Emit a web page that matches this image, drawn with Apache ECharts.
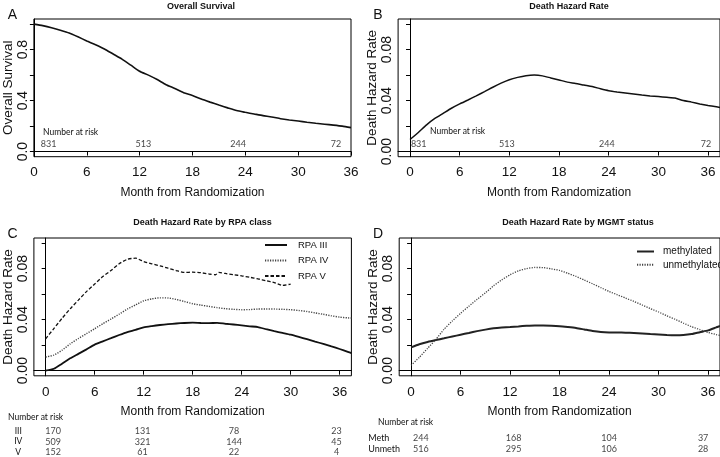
<!DOCTYPE html>
<html>
<head>
<meta charset="utf-8">
<script src="https://cdn.jsdelivr.net/npm/echarts@6/dist/echarts.min.js"></script>
<style>
  html, body { margin: 0; padding: 0; background: #fff; }
  #chart { width: 720px; height: 457px; }
</style>
</head>
<body>
<div id="chart"></div>
<script>
// A: overall survival
const survMonths = [0, 1, 2, 3, 4, 5, 6, 7, 8, 9, 10, 11, 12, 13, 14, 15, 16, 17, 18, 19, 20, 21, 22, 23, 24, 25, 26, 27, 28, 29, 30, 31, 32, 33, 34, 35, 36]
const survival = [1.000, 0.988, 0.972, 0.952, 0.930, 0.900, 0.868, 0.838, 0.805, 0.765, 0.725, 0.678, 0.630, 0.600, 0.565, 0.525, 0.495, 0.462, 0.440, 0.412, 0.388, 0.365, 0.343, 0.322, 0.308, 0.295, 0.282, 0.272, 0.258, 0.248, 0.240, 0.230, 0.222, 0.215, 0.208, 0.200, 0.188]

// B: death hazard rate (all patients)
const hazardMonths = [0, 1, 2, 3, 4, 5, 6, 7, 8, 9, 10, 11, 12, 13, 14, 15, 16, 17, 18, 19, 20, 21, 22, 23, 24, 25, 26, 27, 28, 29, 30, 31, 32, 33, 34, 35, 36, 37, 37.44]
const hazard = [0.0095, 0.0150, 0.0210, 0.0260, 0.0300, 0.0340, 0.0374, 0.0405, 0.0437, 0.0470, 0.0505, 0.0537, 0.0564, 0.0582, 0.0595, 0.0600, 0.0594, 0.0578, 0.0562, 0.0545, 0.0535, 0.0522, 0.0510, 0.0493, 0.0478, 0.0468, 0.0460, 0.0452, 0.0444, 0.0437, 0.0432, 0.0426, 0.0420, 0.0400, 0.0388, 0.0374, 0.0362, 0.0352, 0.0345]

// C: hazard by RPA class
const rpaMonths = [0, 1, 2, 3, 4, 5, 6, 7, 8, 9, 10, 11, 12, 13, 14, 15, 16, 17, 18, 19, 20, 21, 22, 23, 24, 25, 26, 27, 28, 29, 30, 31, 32, 33, 34, 35, 36, 37, 37.44]
const rpa3 = [0.0000, 0.0015, 0.0055, 0.0097, 0.0132, 0.0167, 0.0204, 0.0230, 0.0255, 0.0280, 0.0303, 0.0320, 0.0340, 0.0350, 0.0358, 0.0365, 0.0370, 0.0374, 0.0376, 0.0374, 0.0373, 0.0375, 0.0368, 0.0362, 0.0355, 0.0348, 0.0342, 0.0325, 0.0310, 0.0296, 0.0282, 0.0265, 0.0247, 0.0228, 0.0210, 0.0190, 0.0170, 0.0148, 0.0138]
const rpa4 = [0.0107, 0.0122, 0.0160, 0.0210, 0.0252, 0.0290, 0.0329, 0.0368, 0.0405, 0.0443, 0.0483, 0.0515, 0.0548, 0.0563, 0.0571, 0.0570, 0.0558, 0.0542, 0.0525, 0.0514, 0.0504, 0.0494, 0.0486, 0.0481, 0.0478, 0.0479, 0.0483, 0.0483, 0.0483, 0.0481, 0.0478, 0.0472, 0.0464, 0.0453, 0.0442, 0.0430, 0.0420, 0.0414, 0.0413]
const rpa5Months = [0, 1, 2, 3, 4, 5, 6, 7, 8, 9, 10, 11, 12, 13, 14, 15, 16, 17, 18, 19, 20, 20.8, 21.2, 22, 23, 24, 25, 26, 27, 28, 29, 30]
const rpa5 = [0.0250, 0.0330, 0.0410, 0.0485, 0.0553, 0.0620, 0.0679, 0.0738, 0.0785, 0.0838, 0.0873, 0.0882, 0.0856, 0.0838, 0.0822, 0.0803, 0.0785, 0.0770, 0.0772, 0.0768, 0.0758, 0.0752, 0.0770, 0.0762, 0.0752, 0.0744, 0.0732, 0.0720, 0.0705, 0.0690, 0.0668, 0.0679]

// D: hazard by MGMT status
const mgmtMonths = [0, 1, 2, 3, 4, 5, 6, 7, 8, 9, 10, 11, 12, 13, 14, 15, 16, 17, 18, 19, 20, 21, 22, 23, 24, 25, 26, 27, 28, 29, 30, 31, 32, 33, 34, 35, 36, 37, 37.44]
const methylated = [0.0183, 0.0207, 0.0225, 0.0240, 0.0254, 0.0268, 0.0282, 0.0296, 0.0310, 0.0322, 0.0332, 0.0338, 0.0342, 0.0347, 0.0352, 0.0355, 0.0355, 0.0353, 0.0349, 0.0342, 0.0334, 0.0323, 0.0312, 0.0304, 0.0300, 0.0299, 0.0298, 0.0296, 0.0292, 0.0287, 0.0283, 0.0279, 0.0277, 0.0279, 0.0287, 0.0302, 0.0316, 0.0340, 0.0350]
const unmethylated = [0.0042, 0.0105, 0.0175, 0.0245, 0.0325, 0.0390, 0.0450, 0.0505, 0.0559, 0.0610, 0.0665, 0.0712, 0.0752, 0.0782, 0.0800, 0.0809, 0.0808, 0.0798, 0.0786, 0.0763, 0.0739, 0.0710, 0.0681, 0.0651, 0.0621, 0.0595, 0.0569, 0.0543, 0.0515, 0.0487, 0.0460, 0.0430, 0.0403, 0.0373, 0.0345, 0.0322, 0.0300, 0.0283, 0.0277]

// number at risk
const riskMonths = [0, 12, 24, 36]
const riskAll = [831, 513, 244, 72]
const rpaRows = ['III', 'IV', 'V']
const riskRpa = [[170, 131, 78, 23], [509, 321, 144, 45], [152, 61, 22, 4]]
const mgmtRows = ['Meth', 'Unmeth']
const riskMgmt = [[244, 168, 104, 37], [516, 295, 106, 28]]

// ticks
const monthTicks = [0, 6, 12, 18, 24, 30, 36]
const survTicks = [0, 0.2, 0.4, 0.6, 0.8, 1.0]
const survLabels = [0, 0.4, 0.8]
const hazTicks = [0, 0.02, 0.04, 0.06, 0.08, 0.1]
const hazLabels = [0, 0.04, 0.08]

const SANS = "'Liberation Sans', Arial, sans-serif"
const RISK_FONT = "Lato, 'Open Sans', sans-serif"

const pairs = (xs, ys) => xs.map((x, i) => [x, ys[i]])

function xAxisFor (gridIndex, min, max) {
  return {
    gridIndex,
    type: 'value',
    min,
    max,
    axisLine: { lineStyle: { color: '#000', width: 1 } },
    axisTick: { customValues: monthTicks, length: 4, lineStyle: { color: '#000' } },
    axisLabel: { customValues: monthTicks, fontFamily: SANS, fontSize: 13.5, color: '#111', margin: 9 },
    splitLine: { show: false },
    name: 'Month from Randomization',
    nameLocation: 'middle',
    nameGap: 30,
    nameTextStyle: { fontFamily: SANS, fontSize: 12, color: '#111' }
  }
}

function yAxisFor (gridIndex, min, max, ticks, labels, digits, name, gap) {
  return {
    gridIndex,
    type: 'value',
    min,
    max,
    axisLine: { lineStyle: { color: '#000', width: 1 } },
    axisTick: { customValues: ticks, length: 4, lineStyle: { color: '#000' } },
    axisLabel: {
      customValues: labels,
      rotate: 90,
      formatter: v => v.toFixed(digits),
      fontFamily: SANS,
      fontSize: 14,
      color: '#111',
      margin: 4
    },
    splitLine: { show: false },
    name,
    nameLocation: 'middle',
    nameGap: gap,
    nameTextStyle: { fontFamily: SANS, fontSize: 13.5, color: '#111' }
  }
}

function lineSeries (name, idx, data, color, width, type) {
  return {
    name,
    type: 'line',
    xAxisIndex: idx,
    yAxisIndex: idx,
    data,
    symbol: 'none',
    smooth: 0.2,
    silent: true,
    color,
    itemStyle: { color, opacity: 0 },
    lineStyle: { color, width, type }
  }
}

function riskSeries (idx, points, counts, offsets) {
  return {
    type: 'scatter',
    xAxisIndex: idx,
    yAxisIndex: idx,
    symbolSize: 1,
    silent: true,
    itemStyle: { color: 'rgba(0,0,0,0)' },
    data: points.map((p, i) => ({ value: p, label: { offset: [offsets[i % offsets.length], 0] } })),
    label: {
      show: true,
      position: 'inside',
      formatter: p => counts[p.dataIndex],
      fontFamily: RISK_FONT,
      fontSize: 9,
      color: '#111'
    }
  }
}

function text (x, y, str, font, align) {
  return {
    type: 'text',
    x,
    y,
    style: { text: str, font, fill: '#111', align: align || 'center', verticalAlign: 'middle' }
  }
}

const chart = echarts.init(document.getElementById('chart'))

const rpaPoints = []
const rpaCounts = []
rpaRows.forEach((row, r) => riskMonths.forEach((m, i) => { rpaPoints.push([m, row]); rpaCounts.push(riskRpa[r][i]) }))
const mgmtPoints = []
const mgmtCounts = []
mgmtRows.forEach((row, r) => riskMonths.forEach((m, i) => { mgmtPoints.push([m, row]); mgmtCounts.push(riskMgmt[r][i]) }))

const option = {
  animation: false,
  backgroundColor: '#fff',
  grid: [
    { left: 33, right: 369, top: 19, bottom: 300.3, show: true, borderColor: '#000', borderWidth: 1 },
    { left: 398.1, right: -1, top: 19, bottom: 300.3, show: true, borderColor: '#000', borderWidth: 1 },
    { left: 32.2, right: 368.6, top: 238, bottom: 81.2, show: true, borderColor: '#000', borderWidth: 1 },
    { left: 399.2, right: -1, top: 238, bottom: 81.2, show: true, borderColor: '#000', borderWidth: 1 },
    { left: 32.2, right: 368.6, top: 426.4, bottom: -0.9 },
    { left: 399.2, right: -1, top: 432.8, bottom: 2.2 }
  ],
  xAxis: [
    xAxisFor(0, 0, 36),
    xAxisFor(1, -1.44, 37.44),
    xAxisFor(2, -1.44, 37.44),
    xAxisFor(3, -1.44, 37.44),
    { gridIndex: 4, type: 'value', min: -1.44, max: 37.44, show: false },
    { gridIndex: 5, type: 'value', min: -1.44, max: 37.44, show: false }
  ],
  yAxis: [
    yAxisFor(0, -0.04, 1.04, survTicks, survLabels, 1, 'Overall Survival', 16),
    yAxisFor(1, -0.004, 0.104, hazTicks, hazLabels, 2, 'Death Hazard Rate', 14),
    yAxisFor(2, -0.004, 0.104, hazTicks, hazLabels, 2, 'Death Hazard Rate', 16),
    yAxisFor(3, -0.004, 0.104, hazTicks, hazLabels, 2, 'Death Hazard Rate', 15),
    {
      gridIndex: 4,
      type: 'category',
      data: rpaRows,
      inverse: true,
      axisLine: { show: false },
      axisTick: { show: false },
      axisLabel: { interval: 0, fontFamily: RISK_FONT, fontSize: 8.5, color: '#111', align: 'center', margin: 14 }
    },
    {
      gridIndex: 5,
      type: 'category',
      data: mgmtRows,
      inverse: true,
      axisLine: { show: false },
      axisTick: { show: false },
      axisLabel: { interval: 0, fontFamily: RISK_FONT, fontSize: 9, color: '#111', align: 'left', margin: 31 }
    }
  ],
  legend: [
    {
      data: ['RPA III', 'RPA IV', 'RPA V'],
      orient: 'vertical',
      left: 264,
      top: 239,
      padding: 0,
      itemWidth: 22,
      itemHeight: 12,
      itemGap: 3.5,
      textStyle: { fontFamily: SANS, fontSize: 9.5, color: '#111', lineHeight: 12, padding: [0, 0, 0, 6] }
    },
    {
      data: ['methylated', 'unmethylated'],
      orient: 'vertical',
      left: 636,
      top: 245.5,
      padding: 0,
      itemWidth: 17,
      itemHeight: 12,
      itemGap: 1.3,
      textStyle: { fontFamily: SANS, fontSize: 10, color: '#111', lineHeight: 12, padding: [0, 0, 0, 4] }
    }
  ],
  series: [
    lineSeries('Overall Survival', 0, pairs(survMonths, survival), '#111', 1.6, 'solid'),
    lineSeries('Death Hazard Rate', 1, pairs(hazardMonths, hazard), '#111', 1.5, 'solid'),
    lineSeries('RPA III', 2, pairs(rpaMonths, rpa3), '#111', 1.8, 'solid'),
    lineSeries('RPA IV', 2, pairs(rpaMonths, rpa4), '#444', 1.4, [1.2, 1.3]),
    lineSeries('RPA V', 2, pairs(rpa5Months, rpa5), '#111', 1.3, [3.5, 2]),
    lineSeries('methylated', 3, pairs(mgmtMonths, methylated), '#222', 2, 'solid'),
    lineSeries('unmethylated', 3, pairs(mgmtMonths, unmethylated), '#444', 1.3, [1.2, 1.3]),
    riskSeries(0, riskMonths.map(m => [m, 0.057]), riskAll, [14.7, 3.7, -7.2, -15]),
    riskSeries(1, riskMonths.map(m => [m, 0.0057]), riskAll, [8.7, -2.5, -1.8, -2.2]),
    riskSeries(4, rpaPoints, rpaCounts, [9, 0, -7, -3]),
    riskSeries(5, mgmtPoints, mgmtCounts, [9.7, 3.6, 0, -5])
  ],
  graphic: [
    text(12.5, 15, 'A', '14px ' + SANS),
    text(378, 15, 'B', '14px ' + SANS),
    text(12.5, 234, 'C', '14px ' + SANS),
    text(378, 234, 'D', '14px ' + SANS),
    text(201, 7, 'Overall Survival', 'bold 9px ' + SANS),
    text(569, 7, 'Death Hazard Rate', 'bold 9px ' + SANS),
    text(202.5, 223, 'Death Hazard Rate by RPA class', 'bold 9px ' + SANS),
    text(578, 223, 'Death Hazard Rate by MGMT status', 'bold 9px ' + SANS),
    text(43, 132.3, 'Number at risk', '8.5px ' + RISK_FONT, 'left'),
    text(430, 131.7, 'Number at risk', '8.5px ' + RISK_FONT, 'left'),
    text(8, 417.7, 'Number at risk', '8.5px ' + RISK_FONT, 'left'),
    text(378, 422.7, 'Number at risk', '8.5px ' + RISK_FONT, 'left')
  ]
}

chart.setOption(option)
</script>
</body>
</html>
